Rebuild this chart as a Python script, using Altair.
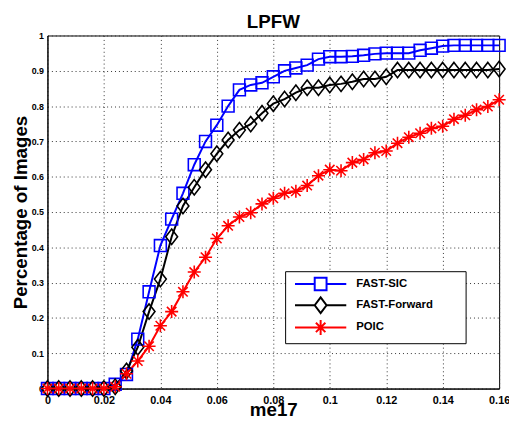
import altair as alt
import pandas as pd

x_vals = [0.000, 0.004, 0.008, 0.012, 0.016, 0.020, 0.024, 0.028, 0.032, 0.036,
          0.040, 0.044, 0.048, 0.052, 0.056, 0.060, 0.064, 0.068, 0.072, 0.076,
          0.080, 0.084, 0.088, 0.092, 0.096, 0.100, 0.104, 0.108, 0.112, 0.116,
          0.120, 0.124, 0.128, 0.132, 0.136, 0.140, 0.144, 0.148, 0.152, 0.156,
          0.160]

fast_sic = [0, 0, 0, 0, 0, 0, 0.012, 0.04, 0.14, 0.274,
            0.405, 0.48, 0.553, 0.634, 0.70, 0.746, 0.80, 0.846, 0.86, 0.866,
            0.883, 0.90, 0.908, 0.916, 0.933, 0.94, 0.94, 0.941, 0.944, 0.948,
            0.95, 0.95, 0.95, 0.958, 0.964, 0.97, 0.972, 0.972, 0.972, 0.972,
            0.972]

fast_forward = [0, 0, 0, 0, 0, 0, 0.005, 0.05, 0.117, 0.218,
                0.31, 0.43, 0.517, 0.57, 0.62, 0.665, 0.704, 0.732, 0.749, 0.78,
                0.807, 0.82, 0.838, 0.852, 0.852, 0.86, 0.863, 0.869, 0.877, 0.877,
                0.883, 0.902, 0.902, 0.902, 0.902, 0.902, 0.902, 0.902, 0.902, 0.902,
                0.905]

poic = [0, 0, 0, 0, 0, 0, 0.005, 0.042, 0.078, 0.12,
        0.178, 0.218, 0.274, 0.33, 0.372, 0.425, 0.461, 0.486, 0.498, 0.523,
        0.539, 0.553, 0.559, 0.575, 0.603, 0.62, 0.617, 0.64, 0.649, 0.668,
        0.673, 0.695, 0.712, 0.723, 0.737, 0.743, 0.763, 0.774, 0.79, 0.799,
        0.818]

series_names = ["FAST-SIC", "FAST-Forward", "POIC"]
series_colors = ["#0000ff", "#000000", "#ff0000"]
x_ticks = [0, 0.02, 0.04, 0.06, 0.08, 0.1, 0.12, 0.14, 0.16]
y_ticks = [0, 0.1, 0.2, 0.3, 0.4, 0.5, 0.6, 0.7, 0.8, 0.9, 1]

marker_paths = [
    "M-1,-1H1V1H-1Z",
    "M0,-1.3L1,0L0,1.3L-1,0Z",
    "M-1.1,0H1.1M0,-1.1V1.1M-0.8,-0.8L0.8,0.8M-0.8,0.8L0.8,-0.8",
]
legend_paths = [
    "M-3.25,0H-0.75M0.75,0H3.25M-0.75,-0.8H0.75V0.8H-0.75Z",
    "M-3.25,0H-0.75M0.75,0H3.25M0,-1L0.75,0L0,1L-0.75,0Z",
    "M-3.25,0H3.25M0,-0.95V0.95M-0.6,-0.6L0.6,0.6M-0.6,0.6L0.6,-0.6",
]

rows = []
for k, (name, vals) in enumerate(zip(series_names, [fast_sic, fast_forward, poic])):
    for xv, yv in zip(x_vals, vals):
        rows.append({"x": xv, "y": yv, "series": name, "k": k})
df = pd.DataFrame(rows)

FONT = "Liberation Sans"

x_enc = alt.X("x:Q", scale=alt.Scale(domain=[0, 0.16], nice=False, zero=False),
              axis=alt.Axis(values=x_ticks, format=".2~f", title="me17", labelFlush=False,
                            labelFontSize=11, labelPadding=6, titlePadding=-5))
y_enc = alt.Y("y:Q", scale=alt.Scale(domain=[0, 1], nice=False),
              axis=alt.Axis(values=y_ticks, format=".1~f", title="Percentage of Images",
                            labelFlush=False, labelFontSize=9, labelPadding=4, titlePadding=1))

base = alt.Chart(df)

lines = base.mark_line(strokeWidth=2).encode(
    x=x_enc, y=y_enc,
    color=alt.Color("series:N", scale=alt.Scale(domain=series_names, range=series_colors), legend=None),
    detail="series:N",
    order="k:Q",
)

points = base.mark_point(filled=False, strokeWidth=1.6, size=144, opacity=1).encode(
    x=x_enc, y=y_enc,
    color=alt.Color("series:N", scale=alt.Scale(domain=series_names, range=series_colors), legend=None),
    shape=alt.Shape("series:N", scale=alt.Scale(domain=series_names, range=marker_paths), legend=None),
    order="k:Q",
)

leg = alt.Legend(title=".", titleOrient="right", titleColor="white", titleFontSize=6,
                 titlePadding=27, orient="none", legendX=241, legendY=239)

legend_layer = base.transform_filter("false").mark_point(filled=False, strokeWidth=2, size=256, opacity=1).encode(
    x=x_enc, y=y_enc,
    color=alt.Color("series:N", scale=alt.Scale(domain=series_names, range=series_colors), legend=leg),
    shape=alt.Shape("series:N", scale=alt.Scale(domain=series_names, range=legend_paths), legend=leg),
)

chart = alt.layer(lines, points, legend_layer).resolve_scale(
    color="independent", shape="independent"
).properties(
    width=458, height=358,
    title=alt.TitleParams("LPFW", fontSize=19, font=FONT, fontWeight="bold", offset=0, color="black"),
    autosize=alt.AutoSizeParams(type="none"),
    padding={"left": 40, "top": 25, "right": 10, "bottom": 30},
).configure_view(
    stroke="black", strokeWidth=1
).configure_axis(
    domainColor="black", domainWidth=1,
    labelFont=FONT, labelFontWeight="bold", labelColor="black",
    titleFont=FONT, titleFontWeight="bold", titleFontSize=19, titleColor="black",
    grid=True, gridColor="#333333", gridDash=[1, 3], gridOpacity=1, gridWidth=1,
    ticks=False,
).configure_legend(
    strokeColor="black", fillColor="white", padding=4, cornerRadius=0,
    labelFont=FONT, labelFontWeight="bold", labelFontSize=11.5, labelColor="black",
    symbolStrokeWidth=2, symbolSize=256, symbolOffset=23, labelOffset=27, rowPadding=-1.5,
    symbolFillColor="transparent",
)

chart.save("out.html", embed_options={"renderer": "svg", "actions": False})
